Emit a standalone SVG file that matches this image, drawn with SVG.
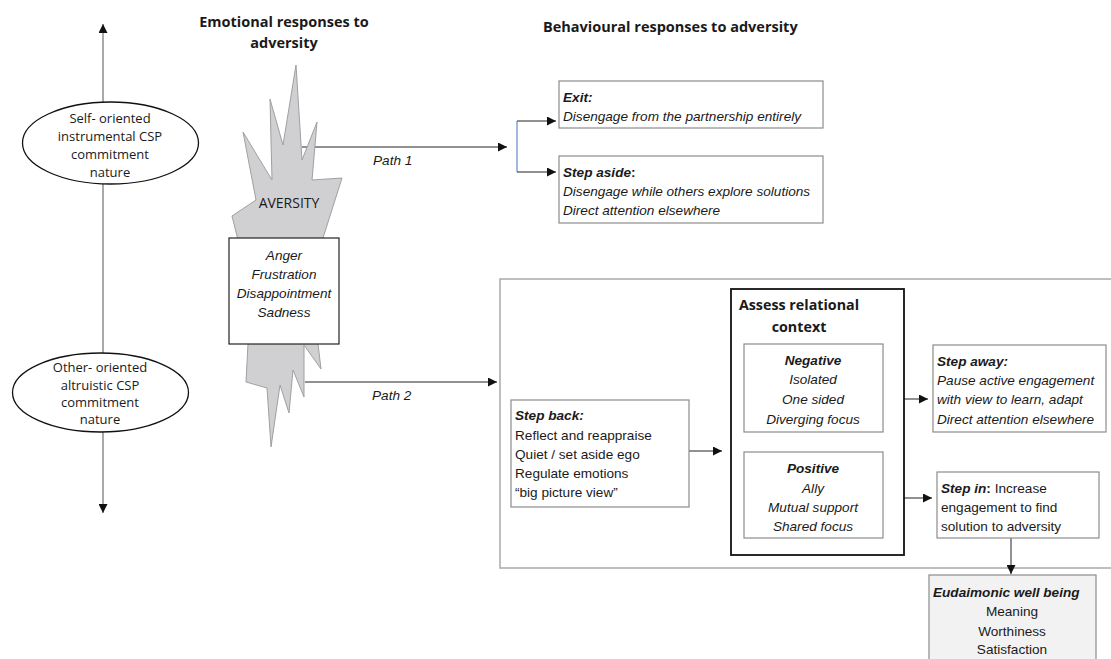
<svg xmlns="http://www.w3.org/2000/svg" width="1111" height="659" viewBox="0 0 1111 659">
  <style>
    .sans { font-family: "Open Sans", "Noto Sans", sans-serif; fill: #1a1a1a; }
    .arial { font-family: "Liberation Sans", Arial, sans-serif; font-size: 13.6px; fill: #1a1a1a; }
    .it { font-style: italic; }
    .b { font-weight: bold; }
    .mid { text-anchor: middle; }
    .box { fill: #ffffff; stroke: #8c8c8c; stroke-width: 1.2; }
    .wire { fill: none; stroke: #222222; stroke-width: 1; }
    .axis { fill: none; stroke: #555555; stroke-width: 1; }
  </style>
  <defs>
    <marker id="arrow" viewBox="0 0 10 10" refX="10" refY="5" markerWidth="9" markerHeight="9" markerUnits="userSpaceOnUse" orient="auto">
      <path d="M0,0 L10,5 L0,10 z" fill="#111111"/>
    </marker>
  </defs>

  <rect width="1111" height="659" fill="#ffffff"/>

  <!-- headings -->
  <g id="heading-emotional">
    <text class="sans b mid" x="284" y="27" font-size="14.5">Emotional responses to</text>
    <text class="sans b mid" x="284" y="48" font-size="14.5">adversity</text>
  </g>
  <g id="heading-behavioural">
    <text class="sans b" x="543" y="32" font-size="14.5">Behavioural responses to adversity</text>
  </g>

  <!-- large container for path 2 -->
  <g id="path2-panel">
    <rect x="500" y="279" width="620" height="289" fill="none" stroke="#a9a9a9" stroke-width="1.5"/>
  </g>

  <!-- connectors -->
  <g id="connectors">
    <line class="axis" x1="103" y1="102" x2="103" y2="24" marker-end="url(#arrow)"/>
    <line class="axis" x1="103" y1="184" x2="103" y2="353" stroke="#888888"/>
    <line class="axis" x1="103" y1="432" x2="103" y2="513" marker-end="url(#arrow)"/>

    <line class="wire" x1="302" y1="147" x2="507" y2="147" stroke="#555555" marker-end="url(#arrow)"/>
    <line class="wire" x1="305" y1="382" x2="497" y2="382" marker-end="url(#arrow)"/>

    <line class="wire" x1="517" y1="121" x2="556" y2="121" marker-end="url(#arrow)"/>
    <line class="wire" x1="517" y1="172" x2="556" y2="172" marker-end="url(#arrow)"/>
    <line x1="517" y1="121" x2="517" y2="172" stroke="#4472c4" stroke-width="1"/>

    <line class="wire" x1="683" y1="451" x2="722" y2="451" marker-end="url(#arrow)"/>
    <line class="wire" x1="875" y1="399" x2="928" y2="399" marker-end="url(#arrow)"/>
    <line class="wire" x1="875" y1="498" x2="932" y2="498" marker-end="url(#arrow)"/>
    <line class="wire" x1="1011" y1="538" x2="1011" y2="574" marker-end="url(#arrow)"/>
  </g>

  <!-- commitment ellipses -->
  <g id="self-oriented">
    <ellipse cx="110.5" cy="143" rx="88" ry="41" fill="#ffffff" stroke="#111111" stroke-width="1.3"/>
    <text class="sans mid" x="110" y="123" font-size="13">Self- oriented</text>
    <text class="sans mid" x="110" y="141" font-size="13">instrumental CSP</text>
    <text class="sans mid" x="110" y="159" font-size="13">commitment</text>
    <text class="sans mid" x="110" y="177" font-size="13">nature</text>
  </g>
  <g id="other-oriented">
    <ellipse cx="100.5" cy="392.5" rx="88" ry="39.5" fill="#ffffff" stroke="#111111" stroke-width="1.3"/>
    <text class="sans mid" x="100" y="372" font-size="13">Other- oriented</text>
    <text class="sans mid" x="100" y="390" font-size="13">altruistic CSP</text>
    <text class="sans mid" x="100" y="407" font-size="13">commitment</text>
    <text class="sans mid" x="100" y="424" font-size="13">nature</text>
  </g>

  <!-- adversity burst -->
  <g id="aversity">
    <polygon fill="#d0d0d2" stroke="#a0a0a0" stroke-width="1"
      points="296,65 302,160 317,122 312,180 342,178 323,238 332,300 318,344 321,369 304,345 304,397 293,370 289,413 280,385 271,447 267,388 246,382 248,344 240,300 238,240 232,216 256,200 243,132 272,180 270,99 283,145"/>
    <text class="sans mid" x="289" y="208" font-size="14">AVERSITY</text>
  </g>

  <!-- emotions -->
  <g id="emotions">
    <rect x="229" y="238" width="110" height="106" fill="#ffffff" stroke="#222222" stroke-width="1.2"/>
    <text class="arial it mid" x="284" y="260" font-size="14">Anger</text>
    <text class="arial it mid" x="284" y="279" font-size="14">Frustration</text>
    <text class="arial it mid" x="284" y="298" font-size="14">Disappointment</text>
    <text class="arial it mid" x="284" y="317" font-size="14">Sadness</text>
  </g>

  <!-- path labels -->
  <g id="path-labels">
    <text class="arial it" x="373" y="165">Path 1</text>
    <text class="arial it" x="372" y="400">Path 2</text>
  </g>

  <!-- path 1 outcomes -->
  <g id="exit">
    <rect class="box" x="559" y="81" width="264" height="47"/>
    <text class="arial it b" x="563" y="102">Exit:</text>
    <text class="arial it" x="563" y="121">Disengage from the partnership entirely</text>
  </g>
  <g id="step-aside">
    <rect class="box" x="559" y="156" width="264" height="67"/>
    <text class="arial b" x="563" y="177"><tspan class="it">Step aside</tspan>:</text>
    <text class="arial it" x="563" y="196">Disengage while others explore solutions</text>
    <text class="arial it" x="563" y="215">Direct attention elsewhere</text>
  </g>

  <!-- path 2 sequence -->
  <g id="step-back">
    <rect class="box" x="511" y="400" width="178" height="107"/>
    <text class="arial it b" x="515" y="420">Step back:</text>
    <text class="arial" x="515" y="440">Reflect and reappraise</text>
    <text class="arial" x="515" y="459">Quiet / set aside ego</text>
    <text class="arial" x="515" y="478">Regulate emotions</text>
    <text class="arial" x="515" y="497">“big picture view”</text>
  </g>

  <g id="assess-context">
    <rect x="731" y="289" width="173" height="266" fill="#ffffff" stroke="#111111" stroke-width="1.8"/>
    <text class="sans b mid" x="799" y="310" font-size="14.3">Assess relational</text>
    <text class="sans b mid" x="799" y="332" font-size="14.3">context</text>
  </g>
  <g id="negative">
    <rect class="box" x="744" y="344" width="139" height="88"/>
    <text class="arial it b mid" x="813" y="365">Negative</text>
    <text class="arial it mid" x="813" y="384">Isolated</text>
    <text class="arial it mid" x="813" y="404">One sided</text>
    <text class="arial it mid" x="813" y="424">Diverging focus</text>
  </g>
  <g id="positive">
    <rect class="box" x="744" y="452" width="139" height="86"/>
    <text class="arial it b mid" x="813" y="473">Positive</text>
    <text class="arial it mid" x="813" y="493">Ally</text>
    <text class="arial it mid" x="813" y="512">Mutual support</text>
    <text class="arial it mid" x="813" y="531">Shared focus</text>
  </g>

  <g id="step-away">
    <rect class="box" x="933" y="345" width="173" height="87"/>
    <text class="arial it b" x="937" y="366">Step away:</text>
    <text class="arial it" x="937" y="385">Pause active engagement</text>
    <text class="arial it" x="937" y="404">with view to learn, adapt</text>
    <text class="arial it" x="937" y="424">Direct attention elsewhere</text>
  </g>
  <g id="step-in">
    <rect class="box" x="937" y="472" width="162" height="66"/>
    <text class="arial" x="941" y="493"><tspan class="it b">Step in</tspan><tspan class="b">:</tspan> Increase</text>
    <text class="arial" x="941" y="512">engagement to find</text>
    <text class="arial" x="941" y="531">solution to adversity</text>
  </g>

  <g id="eudaimonic">
    <rect x="929" y="575" width="167" height="100" fill="#f2f2f2" stroke="#8c8c8c" stroke-width="1.2"/>
    <text class="arial it b" x="933" y="597">Eudaimonic well being</text>
    <text class="arial mid" x="1012" y="616">Meaning</text>
    <text class="arial mid" x="1012" y="636">Worthiness</text>
    <text class="arial mid" x="1012" y="654">Satisfaction</text>
  </g>
</svg>
